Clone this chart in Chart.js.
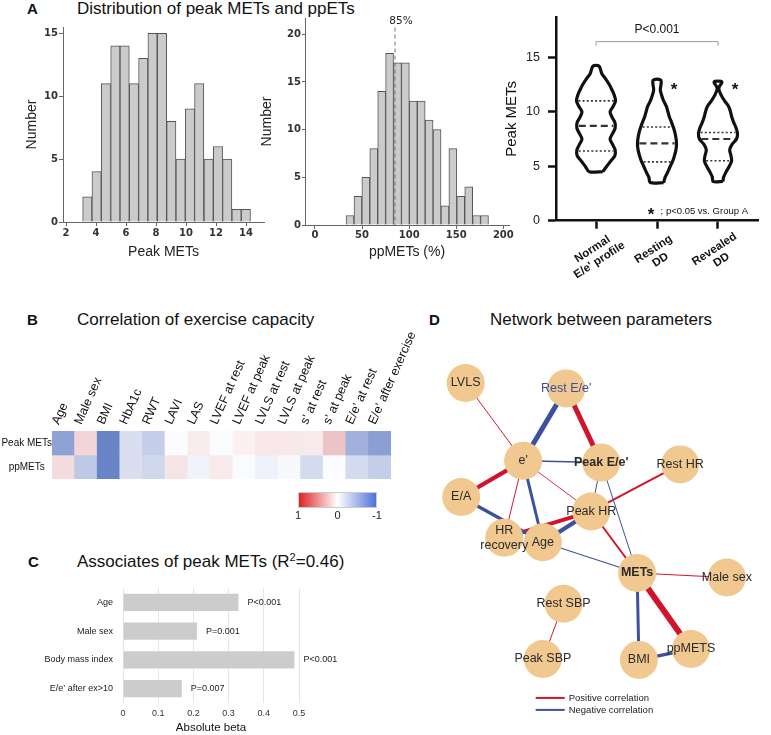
<!DOCTYPE html>
<html><head><meta charset="utf-8">
<script src="https://cdn.jsdelivr.net/npm/chart.js@4.4.1/dist/chart.umd.min.js"></script>
<style>
html,body{margin:0;padding:0;background:#fff;}
body{width:771px;height:735px;position:relative;overflow:hidden;font-family:"Liberation Sans",Arial,sans-serif;color:#111;}
.pl{position:absolute;font-weight:bold;font-size:15px;line-height:18px;}
.tt{position:absolute;font-size:17px;line-height:18px;white-space:nowrap;}
.tt sup{font-size:11px;line-height:0;vertical-align:6px;}
canvas{position:absolute;}
</style></head><body>
<div class="pl" style="left:27px;top:0px">A</div>
<div class="tt" style="left:77px;top:0px">Distribution of peak METs and ppETs</div>
<div class="pl" style="left:27px;top:311px">B</div>
<div class="tt" style="left:77px;top:311px">Correlation of exercise capacity</div>
<div class="pl" style="left:28px;top:553px">C</div>
<div class="tt" style="left:77px;top:553px">Associates of peak METs (R<sup>2</sup>=0.46)</div>
<div class="pl" style="left:429px;top:311px">D</div>
<div class="tt" style="left:490px;top:311px">Network between parameters</div>
<script>
// ---------------- DATA ----------------
// Panel A, histogram 1: peak METs
const metsBinCenters = [3.42,4.04,4.66,5.29,5.91,6.53,7.15,7.77,8.40,9.02,9.64,10.26,10.88,11.51,12.13,12.75,13.37,13.99];
const metsCounts     = [2,4,11,14,14,11,13,15,15,8,5,9,11,5,6,5,1,1];
// Panel A, histogram 2: ppMETs (%)
const ppmetsBinCenters = [37.2,45.6,54.0,62.4,70.8,79.2,87.6,96.0,104.4,112.8,121.2,129.6,138.0,146.4,154.8,163.2,171.6,180.0];
const ppmetsCounts     = [1,3,5,8,14,18,17,17,13,13,11,10,2,8,3,4,1,1];
const ppmetsRef = 85;
// Panel A, violins
const groupNames = [["Normal","E/e' profile"],["Resting","DD"],["Revealed","DD"]];
const groupPos = [1,2,3];
const violinY = [
  [4.5,5,5.5,6,6.5,7,7.5,8,8.5,9,9.5,10,10.5,11,11.5,12,12.5,13,13.5,14.2],
  [3.5,4,4.5,5,5.5,6,6.5,7,7.5,8,8.5,9,9.5,10,10.5,11,11.5,12,12.9],
  [3.6,4,4.5,5,5.5,6,6.5,7,7.5,8,8.5,9,9.5,10,10.5,11,11.5,12.15,12.75]
];
const violinDensity = [
  [0.35,0.55,0.77,0.97,0.98,0.85,0.72,0.85,0.98,0.97,0.82,0.72,0.88,1.0,0.94,0.82,0.68,0.5,0.3,0.15],
  [0.34,0.42,0.56,0.68,0.81,0.9,0.97,1.0,0.98,0.93,0.85,0.75,0.64,0.56,0.48,0.34,0.24,0.17,0.2],
  [0.25,0.29,0.42,0.58,0.7,0.66,0.6,0.72,0.95,1.0,0.93,0.81,0.71,0.64,0.54,0.34,0.17,0.04,0.2]
];
const violinMedian = [8.7,7.1,7.5];
const violinQ1 = [6.4,5.4,5.5];
const violinQ3 = [11.0,8.6,8.1];
const sigGroups = [1,2];
// Panel B, heatmap
const corrVars = ['Age','Male sex','BMI','HbA1c','RWT','LAVI','LAS','LVEF at rest','LVEF at peak','LVLS at rest','LVLS at peak','s\u2019 at rest','s\u2019 at peak','E/e\u2019 at rest','E/e\u2019 after exercise'];
const rowNames = ['Peak METs','ppMETs'];
const corrPeakMets = [-0.64,0.24,-0.85,-0.22,-0.34,-0.02,0.11,-0.03,0.08,0.13,0.13,0.12,0.34,-0.54,-0.66];
const corrPpMets   = [0.2,-0.37,-0.85,-0.22,-0.27,0.16,-0.08,0.12,-0.03,-0.1,-0.04,-0.25,-0.02,-0.25,-0.34];
const colorbarTicks = [1,0,-1];
// Panel C
const betaVars = ['Age','Male sex','Body mass index','E/e\u2019 after ex>10'];
const betaValues = [0.328,0.21,0.487,0.167];
const betaP = ['P<0.001','P=0.001','P<0.001','P=0.007'];
// Panel D, network (layout coordinates)
const nodeNames = ['LVLS',"Rest E/e'","e'","Peak E/e'",'Rest HR','E/A','Peak HR','HR\nrecovery','Age','METs','Male sex','Rest SBP','Peak SBP','BMI','ppMETS'];
const nodeX = [52,164,116,203,291,47,192,95,138,243,343,161,138,245,303];
const nodeY = [32,38,118,120,122,158,174,203,208,242,247,276,337,338,326];
const edgeFrom = ['LVLS',"Rest E/e'","Rest E/e'","e'","e'","e'","e'","e'",'E/A','Peak HR','Peak HR',"Peak E/e'","Peak E/e'",'Rest HR','Peak HR','Age','METs','METs','METs','BMI','Rest SBP'];
const edgeTo   = ["e'","e'","Peak E/e'","Peak E/e'",'E/A','HR\nrecovery','Age','Peak HR','Age','HR\nrecovery','Age','Peak HR','METs','Peak HR','METs','METs','Male sex','BMI','ppMETS','ppMETS','Peak SBP'];
const edgeR    = [0.15,-0.75,0.75,-0.22,0.65,0.15,-0.45,0.13,-0.5,0.6,-0.65,-0.15,-0.15,0.3,0.3,-0.17,0.15,-0.45,0.9,-0.5,0.15];

// ---------------- HELPERS ----------------
Chart.defaults.font.family = '"Liberation Sans", Arial, sans-serif';
Chart.defaults.color = '#222';
function mk(left, top, w, h){
  const c = document.createElement('canvas');
  c.width = w; c.height = h;
  c.style.cssText = `left:${left}px;top:${top}px;width:${w}px;height:${h}px`;
  document.body.appendChild(c);
  return c.getContext('2d');
}
const base = {responsive:false, animation:false, events:[], plugins:{legend:{display:false}, tooltip:{enabled:false}}};
const noPad = s => { s.paddingLeft = 0; s.paddingRight = 0; s.paddingTop = 0; s.paddingBottom = 0; };
const histTick = {family:'DejaVu Sans', size:10, weight:'bold'};

// ---------------- HISTOGRAM 1 ----------------
new Chart(mk(0,20,270,250), {
  type:'bar',
  data:{datasets:[{data: metsBinCenters.map((x,i)=>({x, y: metsCounts[i]})), backgroundColor:'#cbcbcb', borderColor:'#555', borderWidth:1, barPercentage:1, categoryPercentage:1}]},
  options:{...base, layout:{padding:{left:0, top:7, right:6, bottom:0}},
    scales:{
      x:{type:'linear', min:1.8, max:15.2, offset:false,
         grid:{drawOnChartArea:false, offset:false, tickLength:4, color:'#666'}, border:{color:'#666'},
         ticks:{stepSize:2, includeBounds:false, font:histTick, color:'#333', padding:1},
         title:{display:true, text:'Peak METs', font:{size:14}, color:'#222', padding:{top:0, bottom:9}},
         afterFit:s=>{ s.height = 48; noPad(s); }},
      y:{min:0, max:15.5,
         grid:{drawOnChartArea:false, tickLength:4, color:'#666'}, border:{color:'#666'},
         ticks:{stepSize:5, includeBounds:false, font:histTick, color:'#333', padding:1},
         title:{display:true, text:'Number', font:{size:14}, color:'#222', padding:{top:24, bottom:0}},
         afterFit:s=>{ s.width = 63; noPad(s); }}
    }}
});

// ---------------- HISTOGRAM 2 ----------------
const refLine = {id:'refLine', afterDatasetsDraw(chart){
  const {ctx, scales:{x,y}} = chart;
  const px = x.getPixelForValue(ppmetsRef);
  ctx.save();
  ctx.strokeStyle = '#777'; ctx.lineWidth = 1; ctx.setLineDash([4,3]);
  ctx.beginPath(); ctx.moveTo(px, y.getPixelForValue(20.7)); ctx.lineTo(px, y.bottom); ctx.stroke();
  ctx.setLineDash([]);
  ctx.fillStyle = '#222'; ctx.font = '10.5px "DejaVu Sans"'; ctx.textAlign = 'center'; ctx.textBaseline = 'middle';
  ctx.fillText(ppmetsRef + '%', px + 6, y.getPixelForValue(21.4));
  ctx.restore();
}};
new Chart(mk(230,10,285,260), {
  type:'bar',
  data:{datasets:[{data: ppmetsBinCenters.map((x,i)=>({x, y: ppmetsCounts[i]})), backgroundColor:'#cbcbcb', borderColor:'#555', borderWidth:1, barPercentage:1, categoryPercentage:1}]},
  options:{...base, layout:{padding:{left:0, top:8, right:6, bottom:0}},
    scales:{
      x:{type:'linear', min:-10.6, max:206, offset:false,
         grid:{drawOnChartArea:false, offset:false, tickLength:4, color:'#666'}, border:{color:'#666'},
         ticks:{stepSize:50, includeBounds:false, font:histTick, color:'#333', padding:0},
         title:{display:true, text:'ppMETs (%)', font:{size:14}, color:'#222', padding:{top:0, bottom:9}},
         afterFit:s=>{ s.height = 45; noPad(s); }},
      y:{min:0, max:21.7,
         grid:{drawOnChartArea:false, tickLength:3, color:'#666'}, border:{color:'#666'},
         ticks:{stepSize:5, includeBounds:false, font:histTick, color:'#333', padding:1},
         title:{display:true, text:'Number', font:{size:14}, color:'#222', padding:{top:28.6, bottom:0}},
         afterFit:s=>{ s.width = 75; noPad(s); }}
    }},
  plugins:[refLine]
});

// ---------------- VIOLINS ----------------
const VW = 0.32; // max half-width in group units
function interp(ys, ds, v){
  for (let i=0;i<ys.length-1;i++){ if (v>=ys[i] && v<=ys[i+1]) { const t=(v-ys[i])/(ys[i+1]-ys[i]); return ds[i]+t*(ds[i+1]-ds[i]); } }
  return 0;
}
const violinSets = [];
groupPos.forEach((g,k)=>{
  const ys = violinY[k], ds = violinDensity[k];
  const right = ys.map((y,i)=>({x: g + ds[i]*VW, y}));
  const left = ys.map((y,i)=>({x: g - ds[i]*VW, y})).reverse();
  const pts = right.concat(left); pts.push(right[0]);
  violinSets.push({data: pts, showLine:true, pointRadius:0, borderColor:'#111', borderWidth:3.2, tension:0.3, borderJoinStyle:'round'});
  const lines = [[violinQ1[k],[2,2.2],1.6],[violinQ3[k],[2,2.2],1.6],[violinMedian[k],[7,4],2.2]];
  lines.forEach(([v,dash,w])=>{
    const hw = interp(ys, ds, v)*VW - 0.03;
    violinSets.push({data:[{x:g-hw,y:v},{x:g+hw,y:v}], showLine:true, pointRadius:0, borderColor:'#333', borderWidth:w, borderDash:dash});
  });
});
const violinDecor = {id:'violinDecor', afterDraw(chart){
  const {ctx, scales:{x,y}} = chart;
  ctx.save();
  ctx.fillStyle = '#111'; ctx.textAlign = 'center'; ctx.textBaseline = 'middle';
  ctx.font = 'bold 11.5px "Liberation Sans"';
  groupNames.forEach((lines,i)=>{
    const cx = x.getPixelForValue(groupPos[i]), cy = x.top + 34;
    ctx.save(); ctx.translate(cx, cy); ctx.rotate(-33*Math.PI/180);
    lines.forEach((t,j)=>ctx.fillText(t, 0, (j-(lines.length-1)/2)*13));
    ctx.restore();
  });
  const bx1 = x.getPixelForValue(groupPos[0]), bx2 = x.getPixelForValue(groupPos[2]), by = y.getPixelForValue(16.44);
  ctx.strokeStyle = '#999'; ctx.lineWidth = 1;
  ctx.beginPath(); ctx.moveTo(bx1, by+4); ctx.lineTo(bx1, by); ctx.lineTo(bx2, by); ctx.lineTo(bx2, by+4); ctx.stroke();
  ctx.font = '12px "Liberation Sans"';
  ctx.fillText('P<0.001', (bx1+bx2)/2, y.getPixelForValue(17.5));
  ctx.font = 'bold 17px "Liberation Sans"';
  sigGroups.forEach(i=>ctx.fillText('*', x.getPixelForValue(groupPos[i]+0.28), y.getPixelForValue(12.3)+4));
  ctx.fillText('*', x.right-107, y.getPixelForValue(0.9)+4);
  ctx.font = '9.5px "Liberation Sans"'; ctx.textAlign = 'right';
  ctx.fillText('; p<0.05 vs. Group A', x.right-10, y.getPixelForValue(0.9));
  ctx.restore();
}};
new Chart(mk(470,0,301,320), {
  type:'scatter',
  data:{datasets: violinSets},
  options:{...base, layout:{padding:{left:0, top:17, right:13, bottom:0}},
    scales:{
      x:{type:'linear', min:0.344, max:3.656,
         ticks:{display:false, stepSize:1, includeBounds:false},
         grid:{drawOnChartArea:false, tickLength:8, tickWidth:2.5, tickColor:'#111'}, border:{color:'#111', width:2.5},
         afterFit:s=>{ s.height = 99.3; noPad(s); }},
      y:{min:0, max:18.7,
         ticks:{stepSize:5, includeBounds:false, font:{size:12.5}, color:'#222', padding:8},
         grid:{drawOnChartArea:false, tickLength:8, tickWidth:2.5, tickColor:'#111'}, border:{color:'#111', width:2.5},
         title:{display:true, text:'Peak METs', font:{size:15}, color:'#111', padding:{top:33, bottom:0}},
         afterFit:s=>{ s.width = 86; noPad(s); }}
    }},
  plugins:[violinDecor]
});

// ---------------- HEATMAP ----------------
const CELL_RED = [200,80,90], CELL_BLUE = [80,110,190];
const BAR_RED = [220,30,30], BAR_BLUE = [74,111,216];
function mix(c, t){ return `rgb(${Math.round(255+(c[0]-255)*t)},${Math.round(255+(c[1]-255)*t)},${Math.round(255+(c[2]-255)*t)})`; }
function colorFor(v){ const t = Math.min(1, Math.abs(v)); return mix(v >= 0 ? CELL_RED : CELL_BLUE, t); }
function barColorFor(v){ const t = Math.min(1, Math.abs(v)); return mix(v >= 0 ? BAR_RED : BAR_BLUE, t); }
const colorbar = {id:'colorbar', afterDraw(chart){
  const {ctx, chartArea:a} = chart;
  const x0 = a.right-93, x1 = a.right-14, y0 = a.bottom+13, y1 = a.bottom+29;
  const g = ctx.createLinearGradient(x0,0,x1,0);
  colorbarTicks.forEach((v,i)=>g.addColorStop(i/(colorbarTicks.length-1), barColorFor(v)));
  ctx.save();
  ctx.fillStyle = g; ctx.fillRect(x0,y0,x1-x0,y1-y0);
  ctx.strokeStyle = '#ccc'; ctx.lineWidth = 1; ctx.strokeRect(x0+0.5,y0+0.5,x1-x0-1,y1-y0-1);
  ctx.fillStyle = '#222'; ctx.font = '11px "Liberation Sans"'; ctx.textAlign = 'center'; ctx.textBaseline = 'middle';
  colorbarTicks.forEach((v,i)=>ctx.fillText(String(v), x0+(x1-x0)*i/(colorbarTicks.length-1), y1+8));
  ctx.restore();
}};
new Chart(mk(0,330,420,200), {
  type:'bar',
  data:{labels: corrVars, datasets:[
    {data: corrVars.map(()=>[1,2]), backgroundColor: corrPeakMets.map(colorFor)},
    {data: corrVars.map(()=>[0,1]), backgroundColor: corrPpMets.map(colorFor)}
  ]},
  options:{...base, datasets:{bar:{barPercentage:1, categoryPercentage:1, grouped:false, borderWidth:0}},
    layout:{padding:{left:0, top:0, right:29, bottom:51}},
    scales:{
      x:{position:'top', grid:{display:false, drawTicks:false}, border:{display:false},
         ticks:{autoSkip:false, minRotation:66, maxRotation:66, labelOffset:6, font:{size:12.5}, color:'#111', padding:4},
         afterFit:s=>{ s.height = 101; noPad(s); }},
      y:{min:0, max:2, afterBuildTicks:s=>{ s.ticks = [{value:1.5},{value:0.5}]; },
         ticks:{callback:(v,i)=>rowNames[i], font:{size:10}, color:'#111', padding:0, crossAlign:'center'},
         grid:{display:false, drawTicks:false}, border:{display:false},
         afterFit:s=>{ s.width = 52; noPad(s); }}
    }},
  plugins:[colorbar]
});

// ---------------- PANEL C ----------------
const pLabels = {id:'pLabels', afterDatasetsDraw(chart){
  const {ctx} = chart; const meta = chart.getDatasetMeta(0);
  ctx.save(); ctx.fillStyle = '#222'; ctx.font = '9px "Liberation Sans"'; ctx.textAlign = 'left'; ctx.textBaseline = 'middle';
  meta.data.forEach((el,i)=>ctx.fillText(betaP[i], el.x + 9, el.y));
  ctx.restore();
}};
new Chart(mk(0,580,400,155), {
  type:'bar',
  data:{labels: betaVars, datasets:[{data: betaValues, backgroundColor:'#cccccc', barPercentage:0.6, categoryPercentage:1}]},
  options:{...base, indexAxis:'y', layout:{padding:{left:0, top:8, right:101, bottom:0}},
    scales:{
      x:{min:0, max:0.5, ticks:{stepSize:0.1, font:{size:9}, color:'#333', padding:5},
         grid:{color:'#e6e6e6', drawTicks:false}, border:{display:false},
         title:{display:true, text:'Absolute beta', font:{size:11.5}, color:'#111', padding:{top:0, bottom:0}},
         afterFit:s=>{ s.height = 32; noPad(s); }},
      y:{grid:{display:false, drawTicks:false}, border:{display:false},
         ticks:{font:{size:9}, color:'#222', padding:10},
         afterFit:s=>{ s.width = 123; noPad(s); }}
    }},
  plugins:[pLabels]
});

// ---------------- PANEL D ----------------
const POS = '#d0142c', NEG = '#3d4f9f';
const nodeStyle = {"Rest E/e'":{color:NEG}, "Peak E/e'":{bold:true}, 'METs':{bold:true}};
const netSets = [];
edgeFrom.forEach((a,i)=>{
  const ia = nodeNames.indexOf(a), ib = nodeNames.indexOf(edgeTo[i]);
  netSets.push({data:[{x:nodeX[ia],y:nodeY[ia]},{x:nodeX[ib],y:nodeY[ib]}], showLine:true, pointRadius:0,
    borderColor: edgeR[i] > 0 ? POS : NEG, borderWidth: Math.abs(edgeR[i])*6.6, order:2});
});
netSets.push({data: nodeNames.map((n,i)=>({x:nodeX[i], y:nodeY[i]})), pointRadius:19, pointBackgroundColor:'#f1c88f', pointBorderWidth:0, order:0});
const netLabels = {id:'netLabels', afterDatasetsDraw(chart){
  const {ctx, scales:{x,y}} = chart;
  ctx.save(); ctx.textAlign = 'center'; ctx.textBaseline = 'middle';
  nodeNames.forEach((n,i)=>{
    const st = nodeStyle[n] || {};
    ctx.font = (st.bold ? 'bold ' : '') + '12.5px "Liberation Sans"';
    ctx.fillStyle = st.color || '#2a2a2a';
    const lines = n.split('\n');
    const px = x.getPixelForValue(nodeX[i]), py = y.getPixelForValue(nodeY[i]);
    lines.forEach((t,j)=>ctx.fillText(t, px, py + (j-(lines.length-1)/2)*15));
  });
  const lx = x.getPixelForValue(130), ly = y.getPixelForValue(380);
  [[POS,'Positive correlation'],[NEG,'Negative correlation']].forEach(([c,t],k)=>{
    ctx.strokeStyle = c; ctx.lineWidth = 2;
    ctx.beginPath(); ctx.moveTo(lx, ly+k*12); ctx.lineTo(lx+29, ly+k*12); ctx.stroke();
    ctx.fillStyle = '#222'; ctx.font = '9.5px "Liberation Sans"'; ctx.textAlign = 'left';
    ctx.fillText(t, lx+33, ly+k*12+0.5);
  });
  ctx.restore();
}};
new Chart(mk(400,335,371,400), {
  type:'scatter',
  data:{datasets: netSets},
  options:{...base, layout:{padding:0}, clip:false,
    scales:{ x:{display:false, min:0, max:371}, y:{display:false, min:0, max:400, reverse:true} }},
  plugins:[netLabels]
});
</script>
</body></html>
